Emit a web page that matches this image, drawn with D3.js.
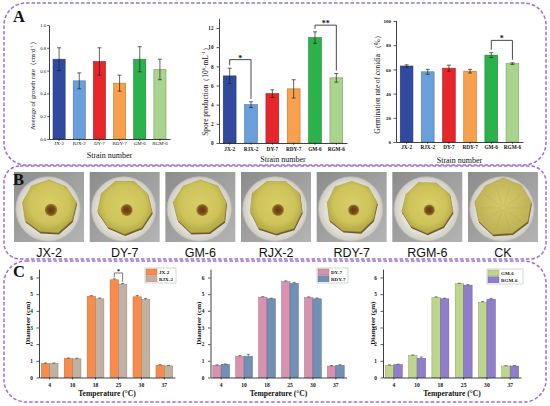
<!DOCTYPE html>
<html><head><meta charset="utf-8">
<script src="https://cdn.jsdelivr.net/npm/d3@7"></script>
<style>body{margin:0;background:#fff}svg{display:block}</style>
</head><body>
<svg id="c" width="550" height="406"></svg>
<script>
// ---------------- DATA ----------------
const strains = ["JX-2","RJX-2","DY-7","RDY-7","GM-6","RGM-6"];
const strainColors = ["#2f4a9e","#6a9fdc","#e6262b","#f8a04b","#2bb24a","#a8d48d"];
const growthRate = [0.70,0.51,0.68,0.49,0.70,0.61];
const growthErr  = [0.10,0.07,0.12,0.07,0.11,0.09];
const sporeProd  = [7.0,4.0,5.15,5.65,11.0,6.8];
const sporeErr   = [0.8,0.3,0.4,0.95,0.6,0.45];
const germRate   = [62.8,58.0,61.0,58.5,71.8,64.8];
const germErr    = [1.0,2.0,2.5,1.5,2.0,0.7];
const growthTicks = [0,0.2,0.4,0.6,0.8,1.0];
const sporeTicks  = [0,2,4,6,8,10,12];
const germTicks   = [0,20,40,60,80,100];
const sporeSig = [{from:"JX-2",to:"RJX-2",level:8.7,label:"*"},{from:"GM-6",to:"RGM-6",level:12.3,label:"**"}];
const germSig  = [{from:"GM-6",to:"RGM-6",level:84,label:"*"}];

const photoLabels = ["JX-2","DY-7","GM-6","RJX-2","RDY-7","RGM-6","CK"];
const lesionRadius = [6.2,6.0,6.0,6.0,5.6,5.6,0];

const temps = ["4","10","18","25","30","37"];
const tempTicks = [0,1,2,3,4,5,6];
const jx2   = [0.84,1.14,4.88,5.86,4.84,0.74], jx2Err  = [0.03,0.03,0.03,0.06,0.08,0.03];
const rjx2  = [0.84,1.12,4.72,5.60,4.68,0.70], rjx2Err = [0.03,0.04,0.05,0.05,0.06,0.02];
const dy7   = [0.73,1.27,4.82,5.75,4.80,0.69], dy7Err  = [0.03,0.05,0.03,0.05,0.04,0.02];
const rdy7  = [0.79,1.27,4.72,5.65,4.72,0.73], rdy7Err = [0.02,0.12,0.04,0.05,0.05,0.04];
const gm6   = [0.73,1.31,4.80,5.63,4.52,0.69], gm6Err  = [0.03,0.04,0.04,0.02,0.04,0.02];
const rgm6  = [0.77,1.15,4.72,5.54,4.70,0.69], rgm6Err = [0.03,0.08,0.04,0.03,0.05,0.02];
const tempSig1 = [{temp:"25",label:"*",level:6.27}];

// ---------------- DRAW ----------------
const svg = d3.select("#c");
const serif = "'Liberation Serif','Times New Roman',serif";
const defs = svg.append("defs");

// dashed panel borders
const borderColor = "#9a6fd6";
[[4,3,542,162,22],[4,166,542,93,16],[4,261,542,141,22]].forEach(b=>{
  svg.append("rect").attr("x",b[0]).attr("y",b[1]).attr("width",b[2]).attr("height",b[3])
    .attr("rx",b[4]).attr("ry",b[4]).attr("fill","none").attr("stroke",borderColor)
    .attr("stroke-width",1.5).attr("stroke-dasharray","3.5,2");
});

function styleAxis(a, fs, bold){
  a.attr("font-family",null).attr("font-size",null);
  a.selectAll("text").attr("font-family",serif).attr("font-size",fs)
    .attr("font-weight",bold?"bold":"normal").attr("fill","#111");
  a.selectAll("line").attr("stroke","#111").attr("stroke-width",0.7);
  a.select(".domain").attr("stroke","#111").attr("stroke-width",0.8);
}

function barChart(o){
  const g = svg.append("g");
  const x = d3.scaleBand().domain(strains).range([o.x0,o.x1]).paddingInner(0.4).paddingOuter(0.2);
  const y = d3.scaleLinear().domain(o.domain).range([o.y0,o.y1]);
  g.selectAll("rect.bar").data(strains).join("rect").attr("class","bar")
    .attr("x",d=>x(d)).attr("width",x.bandwidth())
    .attr("y",(d,i)=>y(o.values[i])).attr("height",(d,i)=>y(0)-y(o.values[i]))
    .attr("fill",(d,i)=>strainColors[i])
    .attr("stroke",(d,i)=>d3.color(strainColors[i]).darker(0.9)).attr("stroke-width",0.6);
  const eb = g.selectAll("g.eb").data(strains).join("g").attr("class","eb")
    .attr("stroke","#222").attr("stroke-width",0.7);
  eb.append("line").attr("x1",d=>x(d)+x.bandwidth()/2).attr("x2",d=>x(d)+x.bandwidth()/2)
    .attr("y1",(d,i)=>y(o.values[i]-o.err[i])).attr("y2",(d,i)=>y(o.values[i]+o.err[i]));
  [-1,1].forEach(s=>{
    eb.append("line").attr("x1",d=>x(d)+x.bandwidth()/2-2).attr("x2",d=>x(d)+x.bandwidth()/2+2)
      .attr("y1",(d,i)=>y(o.values[i]+s*o.err[i])).attr("y2",(d,i)=>y(o.values[i]+s*o.err[i]));
  });
  const ya = g.append("g").attr("transform",`translate(${o.x0},0)`)
    .call(d3.axisLeft(y).tickValues(o.ticks).tickFormat(o.fmt).tickSize(o.ytick).tickSizeOuter(0).tickPadding(o.ypad));
  styleAxis(ya,o.tickFs,o.bold);
  const xa = g.append("g").attr("transform",`translate(0,${o.y0})`)
    .call(d3.axisBottom(x).tickSize(1.8).tickSizeOuter(0).tickPadding(o.xpad));
  styleAxis(xa,o.xFs,o.bold);
  g.append("text").attr("x",(o.x0+o.x1)/2).attr("y",o.xtitleY).attr("text-anchor","middle")
    .attr("font-family",serif).attr("font-size",8).attr("fill","#111").text("Strain number");
  const t = g.append("text").attr("transform",`translate(${o.titleX},${o.titleY}) rotate(-90)`)
    .attr("text-anchor","middle").attr("font-family",serif).attr("font-size",o.titleFs).attr("fill","#111");
  o.title.forEach(p=>{
    const ts=t.append("tspan").text(p.t);
    if(p.sup){ts.attr("font-size",o.titleFs*0.65).attr("dy",-o.titleFs*0.35);}
    else if(p.after){ts.attr("dy",o.titleFs*0.35);}
  });
  (o.sig||[]).forEach(s=>{
    const i1=strains.indexOf(s.from), i2=strains.indexOf(s.to);
    const xa1=x(s.from)+x.bandwidth()/2, xb1=x(s.to)+x.bandwidth()/2, yl=y(s.level);
    const ya1=y(o.values[i1]+o.err[i1])-3, yb1=y(o.values[i2]+o.err[i2])-3;
    g.append("path").attr("d",`M${xa1},${ya1}V${yl}H${xb1}V${yb1}`).attr("fill","none")
      .attr("stroke","#333").attr("stroke-width",0.9);
    g.append("text").attr("x",(xa1+xb1)/2).attr("y",yl+1).attr("text-anchor","middle")
      .attr("font-family",serif).attr("font-size",8).attr("font-weight","bold").attr("fill","#111").text(s.label);
  });
}

barChart({x0:49,x1:170,y0:139,y1:25,domain:[0,1.0],values:growthRate,err:growthErr,ticks:growthTicks,
  fmt:d3.format(".1f"),tickFs:4.8,xFs:5,bold:false,ytick:1.8,ypad:1,xpad:0.8,xtitleY:158,
  titleX:35,titleY:84,titleFs:6.6,
  title:[{t:"Average of growth rate（cm·d"},{t:"-1",sup:true},{t:"）",after:true}]});
barChart({x0:219,x1:347,y0:143,y1:143-13*(115/12),domain:[0,13],values:sporeProd,err:sporeErr,ticks:sporeTicks,
  fmt:d3.format("d"),tickFs:5.2,xFs:5.3,bold:true,ytick:2.5,ypad:3,xpad:2,xtitleY:162,
  titleX:207.5,titleY:90,titleFs:7.4,sig:sporeSig,
  title:[{t:"Spore production（10"},{t:"6",sup:true},{t:"·mL",after:true},{t:"-1",sup:true},{t:"）",after:true}]});
barChart({x0:396,x1:523,y0:142,y1:142-100.5*1.21,domain:[0,100.5],values:germRate,err:germErr,ticks:germTicks,
  fmt:d3.format("d"),tickFs:5,xFs:5.3,bold:true,ytick:2.5,ypad:2.5,xpad:1.8,xtitleY:163,
  titleX:379.5,titleY:83,titleFs:7.2,sig:germSig,
  title:[{t:"Germination rate of conidia （%）"}]});

// ---------------- Panel B photos ----------------
const bg = defs.append("linearGradient").attr("id","bgGrad").attr("x1",0).attr("y1",0).attr("x2",1).attr("y2",1);
bg.append("stop").attr("offset","0%").attr("stop-color","#8c8c8c");
bg.append("stop").attr("offset","100%").attr("stop-color","#b4b4b4");
const dg = defs.append("radialGradient").attr("id","dishGrad");
dg.append("stop").attr("offset","70%").attr("stop-color","#e9e7e0");
dg.append("stop").attr("offset","100%").attr("stop-color","#cfccc3");
const sg = defs.append("radialGradient").attr("id","sliceGrad").attr("cx","50%").attr("cy","45%");
sg.append("stop").attr("offset","0%").attr("stop-color","#d9cf67");
sg.append("stop").attr("offset","75%").attr("stop-color","#cdc35a");
sg.append("stop").attr("offset","100%").attr("stop-color","#b8ad48");
const ckg = defs.append("radialGradient").attr("id","ckGrad").attr("cx","50%").attr("cy","45%");
ckg.append("stop").attr("offset","0%").attr("stop-color","#d6cb6c");
ckg.append("stop").attr("offset","100%").attr("stop-color","#bfb254");
const lg = defs.append("radialGradient").attr("id","lesGrad");
lg.append("stop").attr("offset","0%").attr("stop-color","#5e3a10");
lg.append("stop").attr("offset","65%").attr("stop-color","#7c5018");
lg.append("stop").attr("offset","100%").attr("stop-color","#a9873a");

const photoX = d3.scaleBand().domain(photoLabels).range([11,541]).paddingInner(0.075).paddingOuter(0.04);
const sliceShape = [1,0.97,1.02,0.98,1.0,0.96,1.01,0.99,1.0];
const radial = d3.lineRadial().curve(d3.curveLinearClosed);
const gB = svg.append("g");
photoLabels.forEach((lab,i)=>{
  const px=photoX(lab), w=photoX.bandwidth(), py=172, h=70;
  const cx=px+w/2, cy=py+h/2+1;
  const g = gB.append("g");
  g.append("rect").attr("x",px).attr("y",py).attr("width",w).attr("height",h).attr("fill","url(#bgGrad)");
  g.append("circle").attr("cx",cx-1).attr("cy",cy+1).attr("r",w*0.46).attr("fill","url(#dishGrad)")
    .attr("stroke","#bdbab1").attr("stroke-width",0.8);
  g.append("circle").attr("cx",cx-1).attr("cy",cy+1).attr("r",w*0.42).attr("fill","none")
    .attr("stroke","#d6d3ca").attr("stroke-width",0.6);
  const isCK = lab==="CK";
  const rs = w*(isCK?0.41:(i>=4?0.37:0.39));
  const rot = i*0.35;
  const pts = sliceShape.map((k,j)=>[rot + j*2*Math.PI/sliceShape.length, rs*k]);
  g.append("path").attr("d",radial(pts)).attr("transform",`translate(${cx+0.6},${cy+0.8})`)
    .attr("fill","#6e5a2c");
  g.append("path").attr("d",radial(pts)).attr("transform",`translate(${cx},${cy-1})`)
    .attr("fill",isCK?"url(#ckGrad)":"url(#sliceGrad)").attr("stroke","#a89a45").attr("stroke-width",0.5);
  if(isCK){
    for(let k=0;k<10;k++){
      const a=k*0.63;
      g.append("line").attr("x1",cx+2*Math.cos(a)).attr("y1",cy+2*Math.sin(a))
        .attr("x2",cx+rs*0.8*Math.cos(a)).attr("y2",cy+rs*0.8*Math.sin(a))
        .attr("stroke","#b3a850").attr("stroke-width",0.4).attr("opacity",0.7);
    }
  }
  if(lesionRadius[i]>0){
    g.append("circle").attr("cx",cx+2).attr("cy",cy+2).attr("r",lesionRadius[i]).attr("fill","url(#lesGrad)");
  }
  gB.append("text").attr("x",cx).attr("y",256.5).attr("text-anchor","middle")
    .attr("font-family","'Liberation Sans','DejaVu Sans',sans-serif").attr("font-size",12.5)
    .attr("fill","#111").text(lab);
});

// ---------------- Panel C ----------------
function tempChart(o){
  const g = svg.append("g");
  const x = d3.scaleBand().domain(temps).range([o.x0,o.x1]).paddingInner(0.27).paddingOuter(0.1);
  const xs = d3.scaleBand().domain([0,1]).range([0,x.bandwidth()]);
  const y = d3.scaleLinear().domain([0,6.5]).range([377.5,377.5-6.5*16.67]);
  o.series.forEach((s,si)=>{
    g.selectAll(null).data(temps).join("rect")
      .attr("x",d=>x(d)+xs(si)).attr("width",xs.bandwidth())
      .attr("y",(d,i)=>y(s.v[i])).attr("height",(d,i)=>y(0)-y(s.v[i]))
      .attr("fill",s.c).attr("stroke",d3.color(s.c).darker(0.8)).attr("stroke-width",0.5);
    const eb = g.selectAll(null).data(temps).join("g").attr("stroke","#333").attr("stroke-width",0.6);
    const cxf = d=>x(d)+xs(si)+xs.bandwidth()/2;
    eb.append("line").attr("x1",cxf).attr("x2",cxf)
      .attr("y1",(d,i)=>y(s.v[i])).attr("y2",(d,i)=>y(s.v[i]+s.e[i]));
    eb.append("line").attr("x1",d=>cxf(d)-1.5).attr("x2",d=>cxf(d)+1.5)
      .attr("y1",(d,i)=>y(s.v[i]+s.e[i])).attr("y2",(d,i)=>y(s.v[i]+s.e[i]));
  });
  const ya = g.append("g").attr("transform",`translate(${o.x0},0)`)
    .call(d3.axisLeft(y).tickValues(tempTicks).tickFormat(d3.format("d")).tickSize(2.5).tickSizeOuter(0).tickPadding(3.5));
  styleAxis(ya,5.3,true);
  const xa = g.append("g").attr("transform",`translate(0,377.5)`)
    .call(d3.axisBottom(x).tickSize(2).tickSizeOuter(0).tickPadding(3.2));
  styleAxis(xa,5.6,true);
  g.append("text").attr("x",(o.x0+o.x1)/2).attr("y",396).attr("text-anchor","middle")
    .attr("font-family",serif).attr("font-size",7.6).attr("font-weight","bold").attr("fill","#111")
    .text("Temperature (°C)");
  g.append("text").attr("transform",`translate(${o.titleX},${(377.5+269)/2}) rotate(-90)`)
    .attr("text-anchor","middle").attr("font-family",serif).attr("font-size",7).attr("font-weight","bold")
    .attr("fill","#111").text("Diameter (cm)");
  // legend
  const lg = g.append("g").attr("transform",`translate(${o.legX},${o.legY})`);
  lg.append("rect").attr("x",-1).attr("y",-1).attr("width",o.legW).attr("height",15)
    .attr("fill","#fff").attr("stroke","#aaa").attr("stroke-width",0.5);
  o.series.forEach((s,si)=>{
    lg.append("rect").attr("x",0).attr("y",si*6.8).attr("width",11).attr("height",6)
      .attr("fill",s.c).attr("stroke",d3.color(s.c).darker(0.8)).attr("stroke-width",0.4);
    lg.append("text").attr("x",13).attr("y",si*6.8+4.8).attr("font-family",serif).attr("font-size",5)
      .attr("font-weight","bold").attr("fill","#111").text(s.name);
  });
  (o.sig||[]).forEach(sg=>{
    const i=temps.indexOf(sg.temp);
    const xa1=x(sg.temp)+xs(0)+xs.bandwidth()/2, xb1=x(sg.temp)+xs(1)+xs.bandwidth()/2, yl=y(sg.level);
    const s0=o.series[0], s1=o.series[1];
    g.append("path").attr("d",`M${xa1},${y(s0.v[i]+s0.e[i])-1.5}V${yl}H${xb1}V${y(s1.v[i]+s1.e[i])-1.5}`)
      .attr("fill","none").attr("stroke","#444").attr("stroke-width",0.7);
    g.append("text").attr("x",(xa1+xb1)/2).attr("y",yl+0.5).attr("text-anchor","middle")
      .attr("font-family",serif).attr("font-size",6).attr("font-weight","bold").attr("fill","#111").text(sg.label);
  });
}
tempChart({x0:39,x1:175,titleX:29.5,legX:146,legY:269,legW:31,sig:tempSig1,
  series:[{name:"JX-2",v:jx2,e:jx2Err,c:"#fa8b4b"},{name:"RJX-2",v:rjx2,e:rjx2Err,c:"#c2b0a1"}]});
tempChart({x0:210.5,x1:346.5,titleX:201,legX:318,legY:269,legW:31,
  series:[{name:"DY-7",v:dy7,e:dy7Err,c:"#d891ae"},{name:"RDY-7",v:rdy7,e:rdy7Err,c:"#7190b6"}]});
tempChart({x0:383,x1:521,titleX:375,legX:488,legY:270,legW:36,
  series:[{name:"GM-6",v:gm6,e:gm6Err,c:"#bed58c"},{name:"RGM-6",v:rgm6,e:rgm6Err,c:"#8f7ecb"}]});

// panel letters
[["A",13,22],["B",13,185],["C",13,277]].forEach(l=>{
  svg.append("text").attr("x",l[1]).attr("y",l[2]).attr("font-family",serif).attr("font-size",16.5)
    .attr("font-weight","bold").attr("fill","#111").text(l[0]);
});
</script></body></html>
